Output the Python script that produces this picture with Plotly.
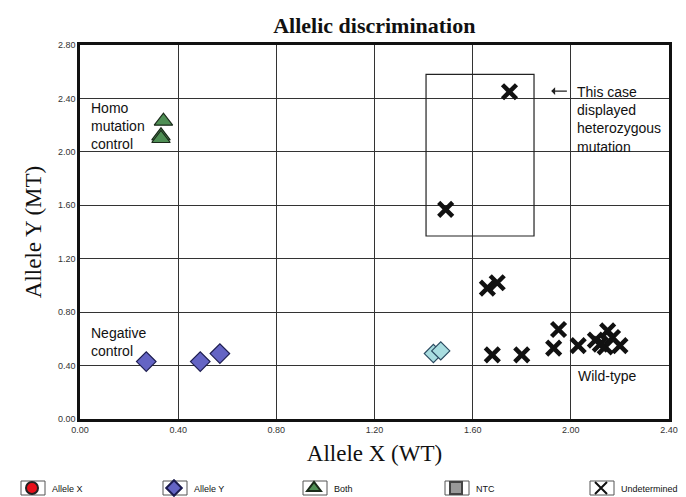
import plotly.graph_objects as go

# ---- data ----
both_x = [0.34, 0.33, 0.33]
both_y = [2.23, 2.12, 2.10]

alleleY_x = [0.27, 0.49, 0.57]
alleleY_y = [0.43, 0.43, 0.49]

pale_x = [1.44, 1.47]
pale_y = [0.49, 0.51]

undet_x = [1.75, 1.49, 1.66, 1.70, 1.68, 1.80, 1.95, 1.93, 2.03, 2.10, 2.15, 2.14, 2.17, 2.20, 2.12]
undet_y = [2.45, 1.57, 0.98, 1.02, 0.48, 0.48, 0.67, 0.53, 0.55, 0.59, 0.66, 0.54, 0.61, 0.55, 0.56]

x_ticks = [0.0, 0.4, 0.8, 1.2, 1.6, 2.0, 2.4]
y_ticks = [0.0, 0.4, 0.8, 1.2, 1.6, 2.0, 2.4, 2.8]

legend_names = ["Allele X", "Allele Y", "Both", "NTC", "Undetermined"]

box_x = [1.41, 1.85]
box_y = [1.37, 2.58]

SANS = "Liberation Sans, Arial, sans-serif"
SERIF = "Liberation Serif, Times New Roman, serif"

# layout geometry (pixels)
W, H = 686, 497
L, R, T, B = 72, 25, 37, 86
PW, PH = W - L - R, H - T - B
LEG_Y_PX = 480
LEG_CX_PX = [25, 167, 307, 449, 594]
SYMBOL_OFFSET = 21


def px_to_paper_x(px):
    return (px - L) / PW


def px_to_paper_y(py):
    return (H - B - py) / PH


legend_ids = ["legend", "legend2", "legend3", "legend4", "legend5"]

fig = go.Figure()

fig.add_trace(go.Scatter(x=[None], y=[None], mode="markers", name=legend_names[0], legend=legend_ids[0],
                         marker=dict(symbol="circle", size=11, color="#e8101a",
                                     line=dict(color="#222", width=1))))
fig.add_trace(go.Scatter(x=alleleY_x, y=alleleY_y, mode="markers", name=legend_names[1], legend=legend_ids[1],
                         marker=dict(symbol="diamond", size=15, color="#6464c4",
                                     line=dict(color="#1c1c50", width=1.2))))
fig.add_trace(go.Scatter(x=pale_x, y=pale_y, mode="markers", name="pale", showlegend=False,
                         marker=dict(symbol="diamond", size=14, color="#a9dde0",
                                     line=dict(color="#2a4a60", width=1.2))))
fig.add_trace(go.Scatter(x=both_x, y=both_y, mode="markers", name=legend_names[2], legend=legend_ids[2],
                         marker=dict(symbol="triangle-up", size=16, color="#4f8f55",
                                     line=dict(color="#1a2a1a", width=1.2))))
fig.add_trace(go.Scatter(x=[None], y=[None], mode="markers", name=legend_names[3], legend=legend_ids[3],
                         marker=dict(symbol="square", size=11, color="#9a9a9a",
                                     line=dict(color="#444", width=1))))
fig.add_trace(go.Scatter(x=undet_x, y=undet_y, mode="markers", name=legend_names[4], legend=legend_ids[4],
                         marker=dict(symbol="x-thin", size=14, color="#111",
                                     line=dict(color="#111", width=4.5))))

fig.add_shape(type="rect", xref="x", yref="y", x0=box_x[0], x1=box_x[1], y0=box_y[0], y1=box_y[1],
              line=dict(color="#222", width=1.2))

# frames around legend symbols
for cx in LEG_CX_PX:
    fig.add_shape(type="rect", xref="paper", yref="paper",
                  x0=px_to_paper_x(cx - 12), x1=px_to_paper_x(cx + 12),
                  y0=px_to_paper_y(LEG_Y_PX + 7), y1=px_to_paper_y(LEG_Y_PX - 7),
                  line=dict(color="#555", width=1))

ann_font = dict(family=SANS, size=14, color="#111")
fig.add_annotation(x=0.035, y=2.405, xref="x", yref="y", text="Homo<br>mutation<br>control",
                   showarrow=False, xanchor="left", yanchor="top", align="left", font=ann_font)
fig.add_annotation(x=0.035, y=0.72, xref="x", yref="y", text="Negative<br>control",
                   showarrow=False, xanchor="left", yanchor="top", align="left", font=ann_font)
fig.add_annotation(x=2.02, y=0.395, xref="x", yref="y", text="Wild-type",
                   showarrow=False, xanchor="left", yanchor="top", align="left", font=ann_font)
fig.add_annotation(x=2.015, y=2.52, xref="x", yref="y",
                   text="This case<br>displayed<br>heterozygous<br>mutation",
                   showarrow=False, xanchor="left", yanchor="top", align="left", font=ann_font)
fig.add_annotation(x=1.92, y=2.455, xref="x", yref="y", ax=1.99, ay=2.455, axref="x", ayref="y",
                   text="", showarrow=True, arrowhead=1, arrowsize=1, arrowwidth=1.3,
                   arrowcolor="#222")

legend_layouts = {}
for lid, cx in zip(legend_ids, LEG_CX_PX):
    legend_layouts[lid] = dict(orientation="h", x=px_to_paper_x(cx - SYMBOL_OFFSET), xanchor="left",
                               y=px_to_paper_y(LEG_Y_PX), yanchor="middle",
                               font=dict(family=SANS, size=9, color="#111"),
                               itemwidth=30, itemsizing="constant",
                               bgcolor="rgba(0,0,0,0)")

fig.update_layout(
    width=W, height=H,
    margin=dict(l=L, r=R, t=T, b=B, autoexpand=False),
    paper_bgcolor="white", plot_bgcolor="white",
    title=dict(text="<b>Allelic discrimination</b>", x=0.534, xanchor="center", y=0.966,
               yanchor="middle", font=dict(family=SERIF, size=22, color="#111")),
    showlegend=True,
    xaxis=dict(range=[0, 2.4], tickvals=x_ticks, ticktext=[f"{v:.2f}" for v in x_ticks],
               showgrid=True, gridcolor="#333", gridwidth=1, zeroline=False,
               showline=True, mirror=True, linecolor="#111", linewidth=2.5, ticks="",
               tickfont=dict(family=SANS, size=9, color="#333"),
               title=dict(text="Allele X (WT)", font=dict(family=SERIF, size=23, color="#111"),
                          standoff=12)),
    yaxis=dict(range=[0, 2.8], tickvals=y_ticks, ticktext=[f"{v:.2f}" for v in y_ticks],
               showgrid=True, gridcolor="#333", gridwidth=1, zeroline=False,
               showline=True, mirror=True, linecolor="#111", linewidth=2.5, ticks="",
               tickfont=dict(family=SANS, size=9, color="#333"),
               title=dict(text="Allele Y (MT)", font=dict(family=SERIF, size=23, color="#111"),
                          standoff=10)),
    **legend_layouts,
)

fig.write_html("out.html")
